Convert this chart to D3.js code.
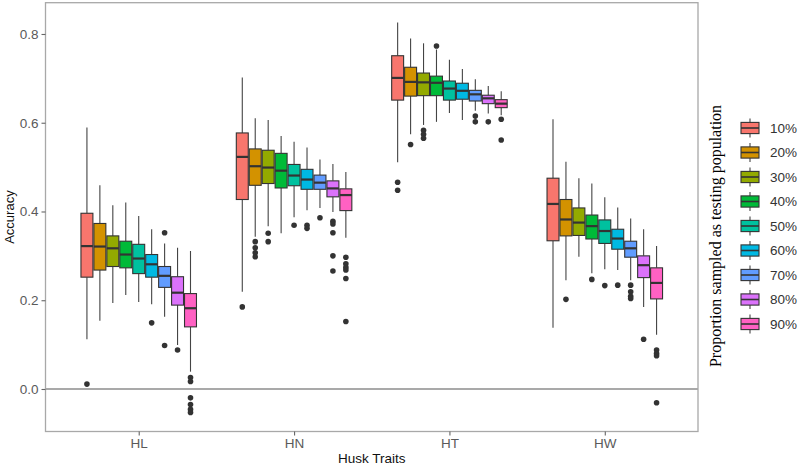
<!DOCTYPE html>
<html><head><meta charset="utf-8">
<script src="https://cdn.jsdelivr.net/npm/d3@7"></script>
<style>body{margin:0;background:#fff}svg{display:block}</style>
</head><body>
<script>
const traits = ["HL","HN","HT","HW"];
const proportions = ["10%","20%","30%","40%","50%","60%","70%","80%","90%"];
const colors = ["#F8766D","#D39200","#93AA00","#00BA38","#00C19F","#00B9E3","#619CFF","#DB72FB","#FF61C3"];
const yTicks = [0, 0.2, 0.4, 0.6, 0.8];
// each row: [lowWhisker, q1, median, q3, highWhisker]
const statsHL = [
 [0.112,0.252,0.322,0.396,0.589],
 [0.154,0.268,0.321,0.373,0.459],
 [0.194,0.276,0.317,0.345,0.414],
 [0.212,0.273,0.303,0.333,0.420],
 [0.196,0.260,0.294,0.326,0.390],
 [0.191,0.252,0.281,0.303,0.360],
 [0.163,0.229,0.255,0.276,0.328],
 [0.099,0.189,0.217,0.253,0.318],
 [0.039,0.140,0.182,0.215,0.311]];
const outliersHL = [[0.011],[],[],[],[],[0.149],[0.352,0.098],[0.088],[0.026,0.017,-0.020,-0.035,-0.046,-0.053]];
const statsHN = [
 [0.219,0.427,0.523,0.577,0.702],
 [0.343,0.459,0.502,0.541,0.610],
 [0.367,0.463,0.499,0.538,0.606],
 [0.351,0.453,0.492,0.531,0.570],
 [0.387,0.458,0.481,0.506,0.557],
 [0.403,0.450,0.472,0.495,0.544],
 [0.408,0.450,0.465,0.482,0.517],
 [0.399,0.433,0.452,0.469,0.507],
 [0.341,0.402,0.437,0.451,0.489]];
const outliersHN = [[0.185],[0.332,0.318,0.307,0.298],[0.351,0.332],[],[0.369],[0.369,0.362],[0.386],[0.378,0.372,0.352,0.300,0.266],[0.297,0.282,0.274,0.268,0.249,0.152]];
const statsHT = [
 [0.511,0.651,0.701,0.751,0.826],
 [0.574,0.660,0.692,0.725,0.790],
 [0.595,0.661,0.691,0.712,0.779],
 [0.602,0.661,0.690,0.705,0.765],
 [0.622,0.651,0.677,0.694,0.742],
 [0.606,0.653,0.672,0.689,0.721],
 [0.627,0.649,0.664,0.673,0.698],
 [0.621,0.643,0.655,0.662,0.683],
 [0.617,0.634,0.643,0.652,0.671]];
const outliersHT = [[0.466,0.448],[0.551],[0.583,0.574,0.565],[0.773],[],[],[0.615,0.602],[0.602],[0.608,0.561]];
const statsHW = [
 [0.138,0.334,0.417,0.475,0.608],
 [0.245,0.345,0.382,0.427,0.512],
 [0.298,0.346,0.375,0.408,0.475],
 [0.261,0.338,0.367,0.392,0.463],
 [0.270,0.328,0.356,0.381,0.432],
 [0.268,0.315,0.339,0.360,0.409],
 [0.245,0.297,0.317,0.333,0.384],
 [0.185,0.251,0.279,0.300,0.360],
 [0.122,0.203,0.239,0.273,0.322]];
const outliersHW = [[],[0.202],[],[0.247],[0.233],[0.234],[0.234,0.219,0.209,0.204],[0.112],[0.088,0.080,0.075,-0.031]];

const statsByTrait = {HL: statsHL, HN: statsHN, HT: statsHT, HW: statsHW};
const outByTrait = {HL: outliersHL, HN: outliersHN, HT: outliersHT, HW: outliersHW};

const W = 800, H = 468;
const P = {left: 45.5, right: 698, top: 2.7, bottom: 431.5};
const FONT = "'Liberation Sans', Arial, sans-serif";
const ink = "#333333";

const svg = d3.select("body").append("svg").attr("width", W).attr("height", H);

const x = d3.scalePoint().domain(traits).range([P.left, P.right]).padding(0.6);
const step = x.step();
const xi = d3.scaleBand().domain(proportions).range([-0.375 * step, 0.375 * step]);
const y = d3.scaleLinear().domain([-0.0958, 0.8705]).range([P.bottom, P.top]);
const color = d3.scaleOrdinal().domain(proportions).range(colors);

// zero line
svg.append("line").attr("x1", P.left).attr("x2", P.right)
  .attr("y1", y(0)).attr("y2", y(0)).attr("stroke", "#555").attr("stroke-width", 1.1);

// boxes
const rows = [];
traits.forEach(t => proportions.forEach((p, i) => {
  const s = statsByTrait[t][i];
  rows.push({t, p, lo: s[0], q1: s[1], med: s[2], q3: s[3], hi: s[4], out: outByTrait[t][i]});
}));
const g = svg.append("g");
const bw = xi.bandwidth();
const grp = g.selectAll("g.box").data(rows).join("g").attr("class", "box")
  .attr("transform", d => `translate(${x(d.t) + xi(d.p)},0)`);
grp.append("line").attr("x1", bw/2).attr("x2", bw/2)
  .attr("y1", d => y(d.hi)).attr("y2", d => y(d.q3)).attr("stroke", "#444").attr("stroke-width", 1.1);
grp.append("line").attr("x1", bw/2).attr("x2", bw/2)
  .attr("y1", d => y(d.q1)).attr("y2", d => y(d.lo)).attr("stroke", "#444").attr("stroke-width", 1.1);
grp.append("rect").attr("x", 0.5).attr("width", bw - 1)
  .attr("y", d => y(d.q3)).attr("height", d => y(d.q1) - y(d.q3))
  .attr("fill", d => color(d.p)).attr("stroke", ink).attr("stroke-width", 1.1);
grp.append("line").attr("x1", 0.5).attr("x2", bw - 0.5)
  .attr("y1", d => y(d.med)).attr("y2", d => y(d.med)).attr("stroke", ink).attr("stroke-width", 2.2);
grp.selectAll("circle").data(d => d.out).join("circle")
  .attr("cx", bw/2).attr("cy", v => y(v)).attr("r", 2.8).attr("fill", ink);

// panel border
svg.append("rect").attr("x", P.left).attr("y", P.top)
  .attr("width", P.right - P.left).attr("height", P.bottom - P.top)
  .attr("fill", "none").attr("stroke", "#a8a8a8").attr("stroke-width", 1.3);

// axes
const yAxis = svg.append("g").attr("transform", `translate(${P.left},0)`)
  .call(d3.axisLeft(y).tickValues(yTicks).tickFormat(d3.format(".1f")).tickSize(4).tickPadding(3));
const xAxis = svg.append("g").attr("transform", `translate(0,${P.bottom})`)
  .call(d3.axisBottom(x).tickSize(4).tickPadding(3));
[yAxis, xAxis].forEach(a => {
  a.select(".domain").remove();
  a.selectAll(".tick line").attr("stroke", "#666").attr("stroke-width", 1.1);
  a.selectAll(".tick text").attr("fill", "#5a5a5a").style("font-family", FONT).style("font-size", "13.5px");
});

// axis titles
svg.append("text").attr("x", (P.left + P.right) / 2).attr("y", 462.5)
  .attr("text-anchor", "middle").style("font-family", FONT).style("font-size", "13.5px")
  .attr("fill", "#111").text("Husk Traits");
svg.append("text").attr("transform", `translate(13.5,${(P.top + P.bottom) / 2}) rotate(-90)`)
  .attr("text-anchor", "middle").style("font-family", FONT).style("font-size", "13px")
  .attr("fill", "#111").text("Accuracy");

// legend
svg.append("text").attr("transform", "translate(721,236) rotate(-90)")
  .attr("text-anchor", "middle").style("font-family", "'Liberation Serif', 'Times New Roman', serif")
  .style("font-size", "16px").attr("fill", "#000").text("Proportion sampled as testing population");
const lg = svg.append("g").selectAll("g").data(proportions).join("g")
  .attr("transform", (d, i) => `translate(741,${128 + i * 24.5})`);
lg.append("line").attr("x1", 9).attr("x2", 9).attr("y1", -9.5).attr("y2", 9.5)
  .attr("stroke", "#444").attr("stroke-width", 1.1);
lg.append("rect").attr("x", 0).attr("width", 18).attr("y", -5.6).attr("height", 11.2)
  .attr("fill", d => color(d)).attr("stroke", ink).attr("stroke-width", 1.1);
lg.append("line").attr("x1", 0).attr("x2", 18).attr("y1", 0).attr("y2", 0)
  .attr("stroke", ink).attr("stroke-width", 1.6);
lg.append("text").attr("x", 29).attr("y", 0).attr("dy", "0.35em")
  .style("font-family", FONT).style("font-size", "13.5px").attr("fill", "#333").text(d => d);
</script>
</body></html>
